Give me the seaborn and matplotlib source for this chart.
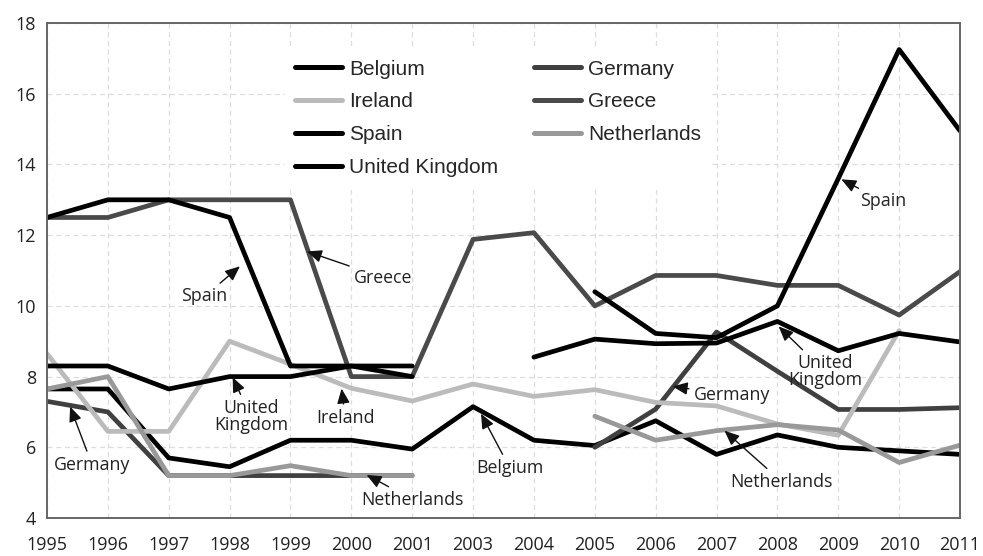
import numpy as np
import pandas as pd
import matplotlib
matplotlib.use("Agg")
import matplotlib.pyplot as plt
import seaborn as sns

nan = np.nan

years = ['1995', '1996', '1997', '1998', '1999', '2000', '2001', '2003',
         '2004', '2005', '2006', '2007', '2008', '2009', '2010', '2011']

belgium = [7.65, 7.65, 5.7, 5.45, 6.2, 6.2, 5.95, 7.15,
           6.2, 6.05, 6.75, 5.8, 6.35, 6.0, 5.9, 5.8]
germany = [7.3, 7.0, 5.2, 5.2, 5.2, 5.2, 5.2, nan,
           nan, 6.0, 7.08, 9.26, 8.15, 7.07, 7.07, 7.12]
ireland = [8.65, 6.45, 6.45, 9.0, 8.35, 7.67, 7.31, 7.79,
           7.44, 7.63, 7.27, 7.17, 6.66, 6.34, 9.3, nan]
greece = [12.5, 12.5, 13.0, 13.0, 13.0, 8.0, 8.0, 11.88,
          12.07, 10.0, 10.86, 10.86, 10.58, 10.58, 9.74, 10.97]
spain = [12.5, 13.0, 13.0, 12.5, 8.3, 8.3, 8.3, nan,
         nan, 10.4, 9.22, 9.1, 10.0, 13.6, 17.25, 14.95]
netherlands = [7.65, 8.0, 5.2, 5.2, 5.48, 5.2, 5.2, nan,
               nan, 6.88, 6.2, 6.47, 6.64, 6.49, 5.57, 6.06]
uk = [8.3, 8.3, 7.65, 8.0, 8.0, 8.3, 8.0, nan,
      8.55, 9.06, 8.93, 8.95, 9.56, 8.73, 9.22, 8.98]

series = {
    'Belgium': belgium,
    'Germany': germany,
    'Ireland': ireland,
    'Greece': greece,
    'Spain': spain,
    'Netherlands': netherlands,
    'United Kingdom': uk,
}

colors = {
    'Belgium': '#000000',
    'Germany': '#404040',
    'Ireland': '#bbbbbb',
    'Greece': '#4a4a4a',
    'Spain': '#000000',
    'Netherlands': '#999999',
    'United Kingdom': '#000000',
}

# long form, with a segment id so gaps in the data stay gaps
rows = []
for country, vals in series.items():
    seg = 0
    for i, v in enumerate(vals):
        if np.isnan(v):
            seg += 1
            continue
        rows.append({'country': country, 'pos': i, 'rate': v, 'seg': seg})
df = pd.DataFrame(rows)

sns.set_style("white")
plt.rcParams['font.family'] = ['Open Sans', 'DejaVu Sans']

fig, ax = plt.subplots(figsize=(9.83, 5.56), dpi=100)
fig.subplots_adjust(left=0.0478, right=0.9766, bottom=0.0683, top=0.9586)

sns.lineplot(data=df, x='pos', y='rate', hue='country', units='seg',
             estimator=None, palette=colors, hue_order=list(series.keys()),
             linewidth=3.4, ax=ax, sort=False)

ax.set_xlim(0, len(years) - 1)
ax.set_ylim(4, 18)
ax.set_xticks(range(len(years)))
ax.set_xticklabels(years)
ax.set_yticks(range(4, 19, 2))
ax.set_xlabel('')
ax.set_ylabel('')
ax.grid(True, linestyle=(0, (4, 3)), color='#dddddd', linewidth=0.9)
ax.set_axisbelow(True)
for sp in ax.spines.values():
    sp.set_color('#666666')
    sp.set_linewidth(1.4)
ax.tick_params(axis='x', length=8, width=1.2, color='#555555',
               labelsize=13, pad=5, labelcolor='#222222')
ax.tick_params(axis='y', length=4, width=0.8, color='#cccccc',
               labelsize=13, pad=4, labelcolor='#222222')

# legend: two columns, first column Belgium/Ireland/Spain/UK
leg = ax.get_legend()
handles = list(leg.legend_handles)
labels = [t.get_text() for t in leg.get_texts()]
order = ['Belgium', 'Ireland', 'Spain', 'United Kingdom',
         'Germany', 'Greece', 'Netherlands']
hmap = dict(zip(labels, handles))
new_leg = ax.legend([hmap[k] for k in order], order, ncol=2,
                    loc='upper left', bbox_to_anchor=(0.249, 0.968),
                    frameon=True, facecolor='white', edgecolor='none',
                    framealpha=1, fancybox=False, borderpad=0.5,
                    handlelength=2.25, handletextpad=0.35,
                    columnspacing=1.7, labelspacing=0.66,
                    prop={'family': 'Liberation Sans', 'size': 15})
new_leg.set_zorder(1.5)
for h in new_leg.legend_handles:
    h.set_linewidth(3.6)

note_kw = dict(fontsize=12.8, color='#222222',
               arrowprops=dict(arrowstyle='-|>,head_length=0.7,head_width=0.3',
                               color='#111111', lw=1.0, shrinkA=1, shrinkB=0))

ax.annotate('Spain', xy=(3.17, 11.12), xytext=(2.59, 10.27),
            ha='center', va='center', **note_kw)
ax.annotate('Greece', xy=(4.27, 11.54), xytext=(5.52, 10.8),
            ha='center', va='center', **note_kw)
ax.annotate('United\nKingdom', xy=(3.05, 7.98), xytext=(3.35, 6.87),
            ha='center', va='center', linespacing=0.95, **note_kw)
ax.annotate('Ireland', xy=(4.84, 7.66), xytext=(4.9, 6.84),
            ha='center', va='center', **note_kw)
ax.annotate('Germany', xy=(0.38, 7.15), xytext=(0.74, 5.51),
            ha='center', va='center', **note_kw)
ax.annotate('Netherlands', xy=(5.25, 5.22), xytext=(6.01, 4.52),
            ha='center', va='center', **note_kw)
ax.annotate('Belgium', xy=(7.13, 6.95), xytext=(7.05, 5.42),
            ha='left', va='center', **note_kw)
ax.annotate('Spain', xy=(13.05, 13.58), xytext=(13.74, 12.96),
            ha='center', va='center', **note_kw)
ax.annotate('United\nKingdom', xy=(12.02, 9.42), xytext=(12.78, 8.14),
            ha='center', va='center', linespacing=0.95, **note_kw)
ax.annotate('Germany', xy=(10.28, 7.72), xytext=(11.25, 7.49),
            ha='center', va='center', **note_kw)
ax.annotate('Netherlands', xy=(11.13, 6.47), xytext=(12.07, 5.03),
            ha='center', va='center', **note_kw)

fig.savefig('out.png', dpi=100)
